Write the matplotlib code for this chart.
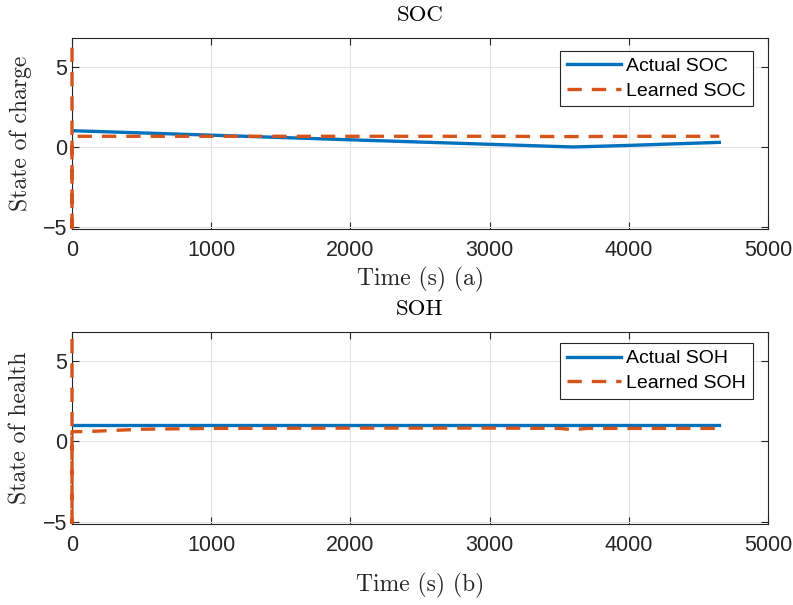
import matplotlib.pyplot as plt
from matplotlib.patches import Rectangle

# data
t_actual = [0, 1000, 2000, 3000, 3600, 4000, 4650]
soc_actual = [1.0, 0.72, 0.43, 0.15, -0.02, 0.08, 0.27]
t_learned = [0, 0, 0, 500, 1000, 2000, 3000, 3600, 4000, 4650]
soc_learned = [20, -20, 0.65, 0.65, 0.65, 0.65, 0.65, 0.63, 0.65, 0.65]

soh_actual = [1.0, 1.0, 1.0, 1.0, 1.0, 1.0, 1.0]
t_soh_learned = [0, 0, 0, 100, 500, 1000, 2000, 3000, 3500, 3600, 3700, 4000, 4650]
soh_learned = [20, -20, 0.6, 0.6, 0.75, 0.8, 0.82, 0.82, 0.8, 0.72, 0.8, 0.8, 0.8]

blue = '#0072BD'
orange = '#D95319'
serif = 'cmr10'
sans = 'Liberation Sans'

fig = plt.figure(figsize=(7.93, 6.05), dpi=100)
ax1 = fig.add_axes([0.0908, 0.6215, 0.8777, 0.3157])
ax2 = fig.add_axes([0.0908, 0.1339, 0.8777, 0.3173])

panels = [
    (ax1, t_actual, soc_actual, t_learned, soc_learned, 'SOC', 'State of charge',
     'Time (s) (a)', ['Actual SOC', 'Learned SOC'], 4, 0.9335),
    (ax2, t_actual, soh_actual, t_soh_learned, soh_learned, 'SOH', 'State of health',
     'Time (s) (b)', ['Actual SOH', 'Learned SOH'], 12, 0.943),
]

for ax, ta, ya, tl, yl, title, ylab, xlab, labels, pad, legy in panels:
    ax.plot(ta, ya, color=blue, lw=2.4, label=labels[0], zorder=3)
    ln, = ax.plot(tl, yl, color=orange, lw=2.4, ls=(0, (4.3, 3.0)), label=labels[1], zorder=3)
    # let the spike at t=0 show its full width over the left spine
    clip = Rectangle((-0.01, 0), 1.02, 1, transform=ax.transAxes, visible=False)
    ax.add_patch(clip)
    ln.set_clip_path(clip)
    ax.set_xlim(0, 5000)
    ax.set_ylim(-5.15, 6.8)
    ax.set_xticks([0, 1000, 2000, 3000, 4000, 5000])
    ax.set_yticks([-5, 0, 5])
    ax.grid(True, color='#e3e3e3', lw=0.8)
    ax.set_axisbelow(True)
    ax.tick_params(direction='in', top=True, right=True, length=5,
                   labelsize=15.5, colors='#262626', labelcolor='#262626')
    ax.tick_params(axis='x', pad=8)
    for lab in ax.get_xticklabels() + ax.get_yticklabels():
        lab.set_fontfamily(sans)
    for s in ax.spines.values():
        s.set_color('#262626')
        s.set_linewidth(0.8)
    ax.set_title(title, fontfamily=serif, fontsize=16.5, pad=12)
    ax.set_ylabel(ylab, fontfamily=serif, fontsize=17, labelpad=8, color='#262626')
    ax.set_xlabel(xlab, fontfamily=serif, fontsize=17, labelpad=pad, color='#262626')
    leg = ax.legend(loc='upper right', bbox_to_anchor=(0.978, legy), prop={'family': sans, 'size': 14},
                    fancybox=False, framealpha=1, edgecolor='#262626', handlelength=2.8,
                    handletextpad=0.25, borderaxespad=0, labelspacing=0.35, borderpad=0.35)
    leg.get_frame().set_linewidth(0.8)

fig.savefig('out.png', dpi=100)
